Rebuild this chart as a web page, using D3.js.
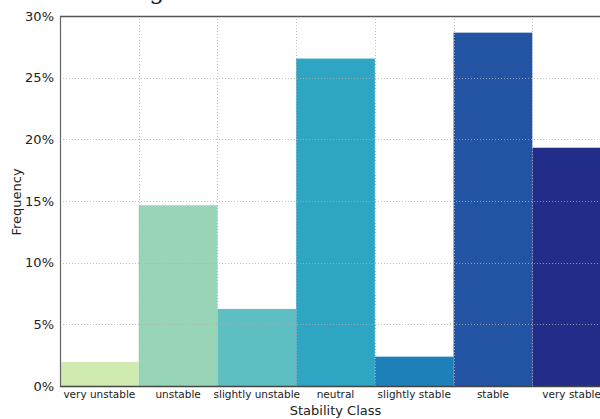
<!DOCTYPE html>
<html>
<head>
<meta charset="utf-8">
<script src="https://cdn.jsdelivr.net/npm/d3@7"></script>
<style>
  body { margin: 0; background: #fff; overflow: hidden; }
  svg { display: block; font-family: "DejaVu Sans", sans-serif; }
</style>
</head>
<body>
<svg id="chart" width="600" height="419"></svg>
<script>
// stability classes and their share of observations (fraction)
const classes = ["very unstable", "unstable", "slightly unstable", "neutral",
                 "slightly stable", "stable", "very stable"];
const frequency = [0.0195, 0.1465, 0.0625, 0.2655, 0.0238, 0.2865, 0.1932];
const barColors = ["#d0ebaf", "#97d4b8", "#5dbfc1", "#2fa5c4", "#1e80b8", "#2354a3", "#222d8a"];
const yTicks = [0, 0.05, 0.10, 0.15, 0.20, 0.25, 0.30];

const svg = d3.select("#chart");
const margin = { top: 16, left: 60 };
const w = 551, h = 370;

const g = svg.append("g").attr("transform", `translate(${margin.left},${margin.top})`);

const x = d3.scaleBand().domain(classes).range([0, w]).padding(0);
const y = d3.scaleLinear().domain([0, 0.30]).range([h, 0]);

// bars
g.selectAll("rect.bar")
  .data(classes)
  .join("rect")
  .attr("class", "bar")
  .attr("x", d => x(d))
  .attr("y", (d, i) => y(frequency[i]))
  .attr("width", x.bandwidth())
  .attr("height", (d, i) => h - y(frequency[i]))
  .attr("fill", (d, i) => barColors[i]);

// dotted grid drawn over the bars
const grid = g.append("g")
  .attr("stroke", "#b0b0b0")
  .attr("stroke-width", 1)
  .attr("stroke-dasharray", "1,2")
  .attr("opacity", 0.8);

grid.selectAll("line.h")
  .data(yTicks.slice(1, -1))
  .join("line")
  .attr("x1", 0).attr("x2", w)
  .attr("y1", d => Math.round(y(d)) + 0.5)
  .attr("y2", d => Math.round(y(d)) + 0.5);

grid.selectAll("line.v")
  .data(classes.slice(1))
  .join("line")
  .attr("x1", d => Math.round(x(d)) + 0.5)
  .attr("x2", d => Math.round(x(d)) + 0.5)
  .attr("y1", 0).attr("y2", h);

// frame
g.append("line").attr("x1", 0).attr("x2", w).attr("y1", 0.5).attr("y2", 0.5)
  .attr("stroke", "#555").attr("stroke-width", 1.3);
g.append("line").attr("x1", 0).attr("x2", w).attr("y1", h + 0.5).attr("y2", h + 0.5)
  .attr("stroke", "#444").attr("stroke-width", 1.3);
g.append("line").attr("x1", 0.5).attr("x2", 0.5).attr("y1", 0).attr("y2", h)
  .attr("stroke", "#666").attr("stroke-width", 1.2);

// y axis labels
const yAxis = g.append("g")
  .call(d3.axisLeft(y).tickValues(yTicks).tickFormat(d3.format(".0%")).tickSize(0).tickPadding(6));
yAxis.select(".domain").remove();
yAxis.selectAll("text").attr("font-size", 13).attr("fill", "#222")
  .attr("font-family", "DejaVu Sans, sans-serif");

// x axis labels
const xAxis = g.append("g")
  .attr("transform", `translate(0,${h})`)
  .call(d3.axisBottom(x).tickSize(0).tickPadding(5));
xAxis.select(".domain").remove();
xAxis.selectAll("text").attr("font-size", 10.5).attr("fill", "#222")
  .attr("font-family", "DejaVu Sans, sans-serif");

// axis titles
svg.append("text")
  .attr("x", margin.left + w / 2)
  .attr("y", 415)
  .attr("text-anchor", "middle")
  .attr("font-size", 13)
  .attr("fill", "#222")
  .text("Stability Class");

svg.append("text")
  .attr("transform", "translate(21,202) rotate(-90)")
  .attr("text-anchor", "middle")
  .attr("font-size", 13)
  .attr("fill", "#222")
  .text("Frequency");

// chart title, mostly cut off by the top edge
const title = svg.append("text")
  .attr("y", -1)
  .attr("font-family", "DejaVu Serif, serif")
  .attr("font-size", 24)
  .attr("fill", "#222")
  .text("Histogram");
const node = title.node();
const gStart = node.getSubStringLength(0, 5);
const gWidth = node.getSubStringLength(5, 1);
title.attr("x", 157 - gStart - gWidth / 2);
</script>
</body>
</html>
